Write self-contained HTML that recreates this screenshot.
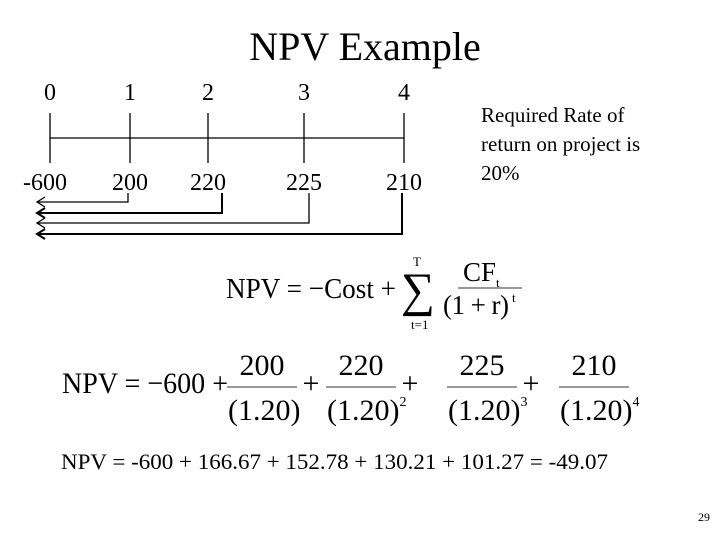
<!DOCTYPE html>
<html><head><meta charset="utf-8"><style>
body{margin:0;background:#fff}
svg{display:block;font-family:"Liberation Serif",serif}
</style></head><body>
<svg width="720" height="540" viewBox="0 0 720 540">
<text x="365" y="60" font-size="40" text-anchor="middle">NPV Example</text>
<g id="timeline"></g>
<g font-size="21">
<text x="481" y="122">Required Rate of</text>
<text x="481" y="151">return on project is</text>
<text x="481" y="180">20%</text>
</g>
<g font-size="29">
<text x="226" y="298" textLength="170" lengthAdjust="spacingAndGlyphs">NPV = −Cost +</text>
<text x="401" y="306" font-size="48" textLength="34" lengthAdjust="spacingAndGlyphs">∑</text>
<text x="413" y="266" font-size="13">T</text>
<text x="411" y="329" font-size="13">t=1</text>
<text x="463" y="281" font-size="27">CF<tspan font-size="13" dy="6">t</tspan></text>
<line x1="458" y1="288" x2="522" y2="288" stroke="#777" stroke-width="1.5"/>
<text x="443" y="314" font-size="27" textLength="66" lengthAdjust="spacing">(1 + r)</text>
<text x="512" y="302" font-size="13">t</text>
</g>
<g id="f2" font-size="30">
<text x="62" y="393" textLength="166" lengthAdjust="spacingAndGlyphs">NPV = −600 +</text>
</g>
<text x="61" y="469" font-size="22" textLength="547" lengthAdjust="spacingAndGlyphs">NPV = -600 + 166.67 + 152.78 + 130.21 + 101.27 = -49.07</text>
<text x="698" y="521" font-size="12">29</text>
</svg>
<script>
const periods=["0","1","2","3","4"];
const cashFlows=["-600","200","220","225","210"];
const exps=["","2","3","4"];
const ns="http://www.w3.org/2000/svg";
const tx=[50,130,208,304,404];
const g=document.getElementById('timeline');
function mk(t,a,p){const e=document.createElementNS(ns,t);for(const k in a)e.setAttribute(k,a[k]);(p||g).appendChild(e);return e;}
let l=mk('line',{x1:50,y1:138,x2:404,y2:138,stroke:'#000','stroke-width':1.3});


periods.forEach((p,i)=>{
 let t=mk('line',{x1:tx[i],y1:113,x2:tx[i],y2:163,stroke:'#000','stroke-width':1.3});
 
 
 let a=mk('text',{x:tx[i],y:100,'font-size':24,'text-anchor':'middle'});a.textContent=p;
 
 
 let b=mk('text',{x:tx[i]-(i==0?5:0),y:190,'font-size':24,'text-anchor':'middle'});b.textContent=cashFlows[i];
 
 
});
const ay=[202,213,223,234],ax=[128,222,309,402];
for(let i=0;i<4;i++){
 let p=mk('path',{d:`M${ax[i]} 193 V${ay[i]} H38 M45 ${ay[i]-5} L37 ${ay[i]} L45 ${ay[i]+5}`,fill:'none',stroke:'#000','stroke-width':i%2?2:1.3});
 
 
}
const f2=document.getElementById('f2');
const fx=[262,361,482,594];
for(let i=0;i<4;i++){
 let n=mk('text',{x:fx[i],y:375,'text-anchor':'middle'},f2);n.textContent=cashFlows[i+1];
 
 
 let ln=mk('line',{x1:fx[i]-35,y1:387,x2:fx[i]+35,y2:387,stroke:'#777','stroke-width':1.5},f2);
 
 
 let d=mk('text',{x:fx[i]-34,y:420},f2);d.textContent='(1.20)';
 if(exps[i]){let s=mk('tspan',{'font-size':14,dy:-14},d);s.textContent=exps[i];}
 
 
 if(i<3){let pl=mk('text',{x:fx[i]+49,y:393,'text-anchor':'middle'},f2);pl.textContent='+';
 
 }
}
</script>
</body></html>
